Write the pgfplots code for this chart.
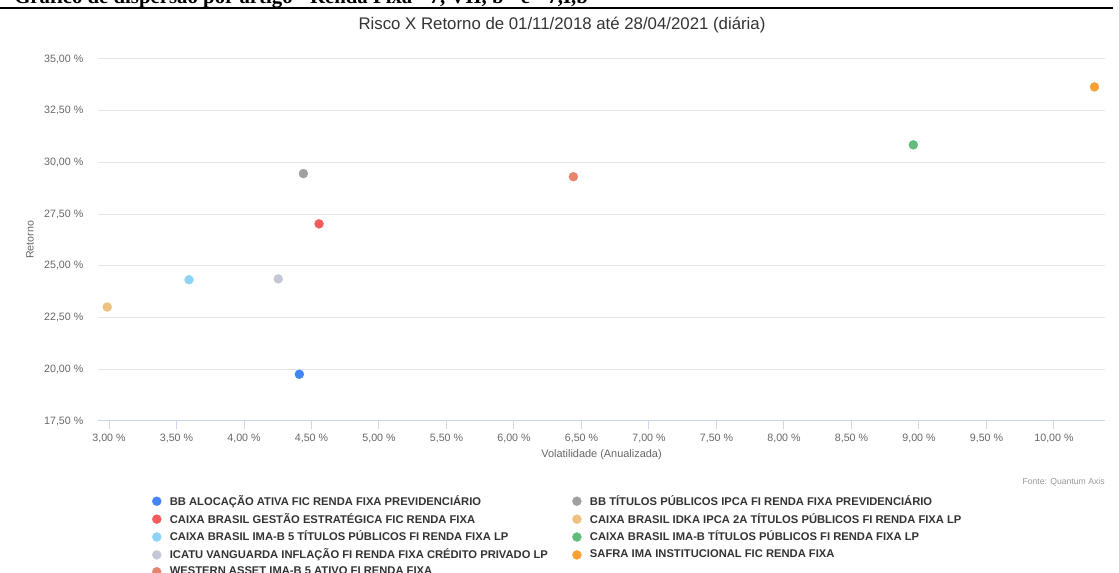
\documentclass[border=0pt]{standalone}
\usepackage{pgfplots}
\pgfplotsset{compat=1.18}
\usepackage{fontspec}
\setmainfont{Liberation Sans}
\newfontfamily\headserif{Liberation Serif}
\definecolor{cA}{HTML}{4285F4}
\definecolor{cB}{HTML}{A0A0A0}
\definecolor{cC}{HTML}{F45B5B}
\definecolor{cD}{HTML}{EDC17F}
\definecolor{cE}{HTML}{8DD3F7}
\definecolor{cF}{HTML}{62BD7D}
\definecolor{cG}{HTML}{C4C7D6}
\definecolor{cH}{HTML}{F7A035}
\definecolor{cI}{HTML}{E8836E}
\definecolor{t333}{HTML}{333333}
\definecolor{t666}{HTML}{666666}
\definecolor{t999}{HTML}{999999}
\definecolor{axisc}{HTML}{CCD6EB}
\definecolor{gridc}{HTML}{E6E6E6}
\newcommand{\lb}[1]{\makebox[295.5pt][l]{#1}}
\begin{document}
\begin{tikzpicture}[x=0.75pt,y=0.75pt]
\useasboundingbox (0,0) rectangle (1119,573);
\node[anchor=base west, inner sep=0pt, font=\headserif\bfseries\fontsize{15.6}{18}\selectfont] at (14,569.5) {Gráfico de dispersão por artigo - Renda Fixa - 7, VII, b - e - 7,I,b};
\draw[line width=1pt] (0,565) -- (1113,565);
\node[inner sep=0pt, font=\fontsize{12.6}{15}\selectfont, text=t333] at (562,548) {Risco X Retorno de 01/11/2018 até 28/04/2021 (diária)};
\node[inner sep=0pt, rotate=90, font=\fontsize{8}{10}\selectfont, text=t666] at (30,333) {Retorno};
\node[inner sep=0pt, font=\fontsize{8.2}{10}\selectfont, text=t666] at (601.5,118) {Volatilidade (Anualizada)};
\node[inner sep=0pt, anchor=east, font=\fontsize{6.5}{8}\selectfont, text=t999] at (1105,91) {Fonte: Quantum Axis};
\begin{axis}[
  at={(73.5pt,114pt)}, anchor=south west,
  scale only axis, width=755.25pt, height=271.5pt,
  xmin=2.9185, xmax=10.378, ymin=17.5, ymax=35,
  axis x line*=bottom, axis y line*=left,
  x axis line style={draw=axisc, line width=0.75pt, -},
  y axis line style={draw=none},
  ytick style={draw=none},
  xtick style={draw=axisc, line width=0.75pt},
  tick align=outside, major tick length=6pt,
  ymajorgrids, grid style={draw=gridc, line width=0.75pt},
  xtick={3,3.5,4,4.5,5,5.5,6,6.5,7,7.5,8,8.5,9,9.5,10},
  ytick={17.5,20,22.5,25,27.5,30,32.5,35},
  /pgf/number format/assume math mode=true,
  xticklabel={\pgfmathprintnumber[fixed,fixed zerofill,precision=2,use comma]{\tick}~\%},
  yticklabel={\pgfmathprintnumber[fixed,fixed zerofill,precision=2,use comma]{\tick}~\%},
  tick label style={font=\fontsize{8}{10}\selectfont, text=t666},
  xticklabel style={yshift=0pt},
  yticklabel style={xshift=-1.5pt},
  clip=false,
  legend columns=2,
  legend cell align=left,
  legend style={at={(0.0536,-0.2044)}, anchor=north west, draw=none, fill=none,
    font=\bfseries\fontsize{8.4}{10}\selectfont, text=t333,
    inner sep=0pt, column sep=6.4pt, row sep=4.45pt,
    nodes={inner sep=0pt}},
  legend image code/.code={\draw[#1] plot coordinates {(0pt,0pt)};},
  every axis plot/.append style={only marks, mark=*, mark size=3.4pt},
]
\addplot[color=cA, mark options={fill=cA, draw=cA, line width=0.2pt}] coordinates {(4.41,19.76)};
\addlegendentry{\lb{BB ALOCAÇÃO ATIVA FIC RENDA FIXA PREVIDENCIÁRIO}}
\addplot[color=cB, mark options={fill=cB, draw=cB, line width=0.2pt}] coordinates {(4.44,29.46)};
\addlegendentry{BB TÍTULOS PÚBLICOS IPCA FI RENDA FIXA PREVIDENCIÁRIO}
\addplot[color=cC, mark options={fill=cC, draw=cC, line width=0.2pt}] coordinates {(4.556,27.03)};
\addlegendentry{\lb{CAIXA BRASIL GESTÃO ESTRATÉGICA FIC RENDA FIXA}}
\addplot[color=cD, mark options={fill=cD, draw=cD, line width=0.2pt}] coordinates {(2.987,23.01)};
\addlegendentry{CAIXA BRASIL IDKA IPCA 2A TÍTULOS PÚBLICOS FI RENDA FIXA LP}
\addplot[color=cE, mark options={fill=cE, draw=cE, line width=0.2pt}] coordinates {(3.593,24.33)};
\addlegendentry{\lb{CAIXA BRASIL IMA-B 5 TÍTULOS PÚBLICOS FI RENDA FIXA LP}}
\addplot[color=cF, mark options={fill=cF, draw=cF, line width=0.2pt}] coordinates {(8.958,30.85)};
\addlegendentry{CAIXA BRASIL IMA-B TÍTULOS PÚBLICOS FI RENDA FIXA LP}
\addplot[color=cG, mark options={fill=cG, draw=cG, line width=0.2pt}] coordinates {(4.254,24.37)};
\addlegendentry{\lb{ICATU VANGUARDA INFLAÇÃO FI RENDA FIXA CRÉDITO PRIVADO LP}}
\addplot[color=cH, mark options={fill=cH, draw=cH, line width=0.2pt}] coordinates {(10.30,33.65)};
\addlegendentry{SAFRA IMA INSTITUCIONAL FIC RENDA FIXA}
\addplot[color=cI, mark options={fill=cI, draw=cI, line width=0.2pt}] coordinates {(6.44,29.31)};
\addlegendentry{\lb{WESTERN ASSET IMA-B 5 ATIVO FI RENDA FIXA}}
\end{axis}
\end{tikzpicture}
\end{document}
